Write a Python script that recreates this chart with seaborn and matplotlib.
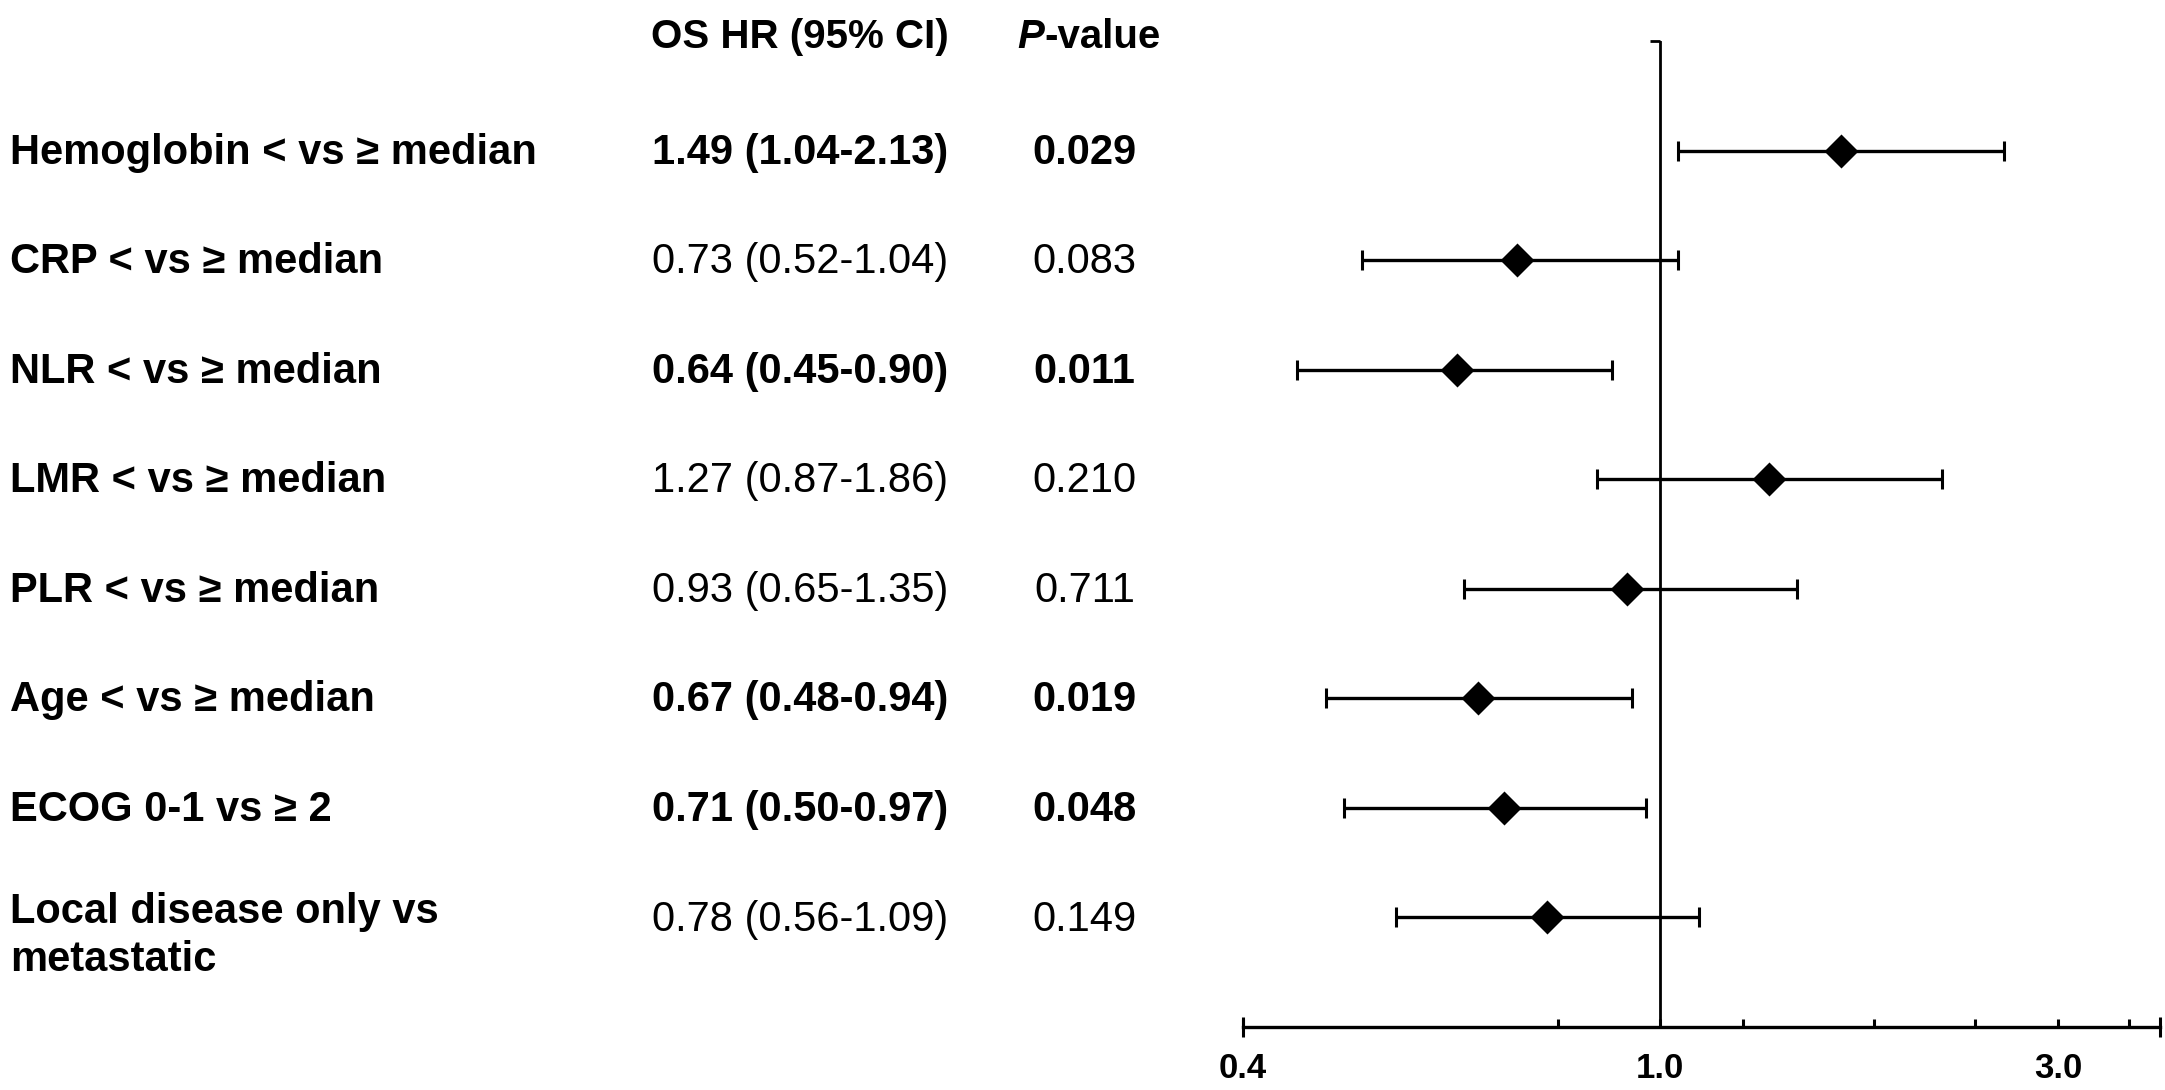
import numpy as np
import pandas as pd
import matplotlib
matplotlib.use("Agg")
import matplotlib.pyplot as plt
import seaborn as sns
from matplotlib import transforms
from matplotlib.ticker import NullFormatter

# ---------------- data ----------------
labels = [
    "Hemoglobin < vs \u2265 median",
    "CRP < vs \u2265 median",
    "NLR < vs \u2265 median",
    "LMR < vs \u2265 median",
    "PLR < vs \u2265 median",
    "Age < vs \u2265 median",
    "ECOG 0-1 vs \u2265 2",
    "Local disease only vs\nmetastatic",
]
hr = [1.49, 0.73, 0.64, 1.27, 0.93, 0.67, 0.71, 0.78]
ci_low = [1.04, 0.52, 0.45, 0.87, 0.65, 0.48, 0.50, 0.56]
ci_high = [2.13, 1.04, 0.90, 1.86, 1.35, 0.94, 0.97, 1.09]
hr_text = [
    "1.49 (1.04-2.13)",
    "0.73 (0.52-1.04)",
    "0.64 (0.45-0.90)",
    "1.27 (0.87-1.86)",
    "0.93 (0.65-1.35)",
    "0.67 (0.48-0.94)",
    "0.71 (0.50-0.97)",
    "0.78 (0.56-1.09)",
]
p_text = ["0.029", "0.083", "0.011", "0.210", "0.711", "0.019", "0.048", "0.149"]
significant = [True, False, True, False, False, True, True, False]
header_hr = "OS HR (95% CI)"
header_p_italic = "P"
header_p_rest = "-value"
tick_values = [0.4, 1.0, 2.4]
tick_labels = ["0.4", "1.0", "3.0"]
minor_tick_values = [0.8, 1.2, 1.6, 2.0, 2.8]
x_limits = (0.4, 3.0)

# ---------------- style ----------------
sns.set_theme(style="white")
plt.rcParams["font.family"] = ["Liberation Sans", "DejaVu Sans"]

W, H = 2165, 1090
fig = plt.figure(figsize=(W / 100, H / 100), dpi=100)
fig.patch.set_facecolor("white")
ax = fig.add_axes([0.5741, 0.0578, 0.4236, 0.9046])

n = len(labels)
df = pd.DataFrame({
    "label": labels,
    "hr": hr,
    "lo": ci_low,
    "hi": ci_high,
    "row": np.arange(n),
})

ax.set_xscale("log")
ax.axvline(1.0, color="black", lw=2.0, zorder=1)
ax.errorbar(df["hr"], df["row"],
            xerr=[df["hr"] - df["lo"], df["hi"] - df["hr"]],
            fmt="none", ecolor="black", elinewidth=2.4, capsize=7, capthick=2.2,
            zorder=2)
sns.scatterplot(data=df, x="hr", y="row", marker="D", s=300, color="black",
                edgecolor="black", linewidth=0, ax=ax, zorder=3, legend=False)

ax.set_xscale("log")
ax.set_xlim(*x_limits)
ax.set_ylim(n, -1)

# little hook at the top of the reference line
ax.plot([0.978, 1.0], [-1, -1], color="black", lw=2, clip_on=False,
        solid_capstyle="butt")

for s in ["top", "right", "left"]:
    ax.spines[s].set_visible(False)
ax.spines["bottom"].set_color("black")
ax.spines["bottom"].set_linewidth(2.4)
ax.set_yticks([])
ax.set_xlabel("")
ax.set_ylabel("")
ax.set_facecolor("white")

ax.set_xticks(tick_values)
ax.set_xticklabels(tick_labels, fontsize=25, fontweight="bold")
ax.set_xticks(minor_tick_values, minor=True)
ax.xaxis.set_minor_formatter(NullFormatter())
ax.tick_params(axis="x", which="both", direction="in", length=6, width=2.2,
               color="black", pad=18, bottom=True, labelcolor="black")
# end caps of the axis line
ax.plot(list(x_limits), [n, n], ls="none", marker="|", ms=14, mew=2.2,
        color="black", clip_on=False)

# ---------------- text columns ----------------
trans = transforms.blended_transform_factory(fig.transFigure, ax.transData)

for i, lab in enumerate(labels):
    lines = lab.split("\n")
    base = i + (0.12 if len(lines) == 1 else 0.055)
    for k, line in enumerate(lines):
        fig.text(0.0046, base + k * 0.43, line, transform=trans, ha="left",
                 va="baseline", fontsize=30, fontweight="bold", color="black")
    w = "bold" if significant[i] else "normal"
    fig.text(0.3695, i + 0.12, hr_text[i], transform=trans, ha="center",
             va="baseline", fontsize=30, fontweight=w, color="black")
    fig.text(0.501, i + 0.12, p_text[i], transform=trans, ha="center",
             va="baseline", fontsize=30, fontweight=w, color="black")

hy = 1 - 48 / H
fig.text(0.3695, hy, header_hr, ha="center", va="baseline", fontsize=29,
         fontweight="bold", color="black")
tp = fig.text(1017 / W, hy, header_p_italic, ha="left", va="baseline",
              fontsize=29, fontweight="bold", fontstyle="italic", color="black")
fig.canvas.draw()
bb = tp.get_window_extent(renderer=fig.canvas.get_renderer())
fig.text(bb.x1 / W, hy, header_p_rest, ha="left", va="baseline", fontsize=29,
         fontweight="bold", color="black")

fig.savefig("out.png", dpi=100, facecolor="white")
